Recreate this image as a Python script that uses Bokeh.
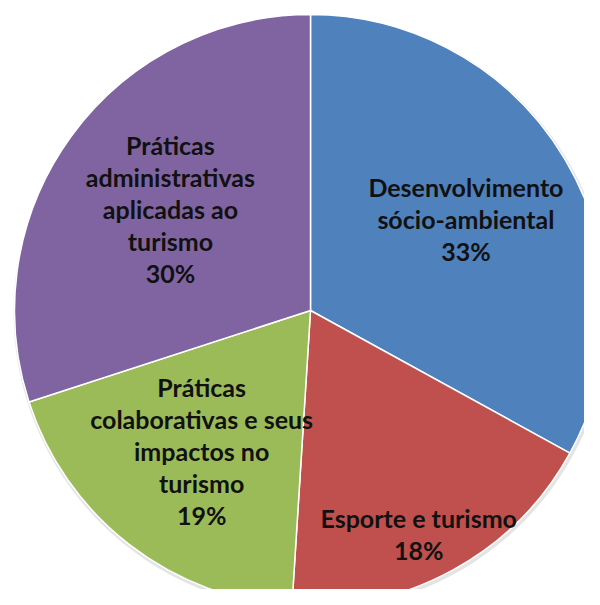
import math
from bokeh.plotting import figure
from bokeh.models import Range1d, ColumnDataSource
from bokeh.core.properties import value
from bokeh.embed import file_html
from bokeh.resources import INLINE

# ---- data ----
categories = ["Desenvolvimento sócio-ambiental", "Esporte e turismo",
              "Práticas colaborativas e seus impactos no turismo",
              "Práticas administrativas aplicadas ao turismo"]
percents = [33, 18, 19, 30]
label_lines = [
    ["Desenvolvimento", "sócio-ambiental", "33%"],
    ["Esporte e turismo", "18%"],
    ["Práticas", "colaborativas e seus", "impactos no", "turismo", "19%"],
    ["Práticas", "administrativas", "aplicadas ao", "turismo", "30%"],
]
colors = ["#4F81BD", "#C0504D", "#9BBB59", "#8064A2"]

# ---- layout (data units = pixels) ----
W, H = 584, 589
cx, cy = 310, 279
R = 296
label_frac = [0.61, 0.84, 0.60, 0.585]
label_turn = [0.0, -3.0, 0.0, 0.0]   # degrees
line_gap = 32

total = sum(percents)
starts, ends, mids = [], [], []
cum = 0.0
for v in percents:
    a0 = math.pi / 2 - 2 * math.pi * cum / total
    cum += v
    a1 = math.pi / 2 - 2 * math.pi * cum / total
    starts.append(a0)
    ends.append(a1)
    mids.append((a0 + a1) / 2)

p = figure(width=W, height=H, output_backend="svg", toolbar_location=None,
           x_range=Range1d(0, W), y_range=Range1d(0, H),
           min_border=0, outline_line_color=None)
p.axis.visible = False
p.grid.visible = False
p.background_fill_color = "white"

# soft outer shadow
p.circle(x=[cx + 1], y=[cy - 2], radius=R + 2, fill_color="#d8d8d8",
         line_color=None, fill_alpha=0.7)

src = ColumnDataSource(dict(start=starts, end=ends, color=colors))
p.wedge(x=cx, y=cy, radius=R, start_angle="start", end_angle="end",
        direction="clock", fill_color="color", line_color="white",
        line_width=1.5, source=src)

xs, ys, ts = [], [], []
for lines, m, f, t in zip(label_lines, mids, label_frac, label_turn):
    a = m + math.radians(t)
    ax = cx + f * R * math.cos(a)
    ay = cy + f * R * math.sin(a)
    n = len(lines)
    for i, s in enumerate(lines):
        xs.append(ax)
        ys.append(ay + ((n - 1) / 2 - i) * line_gap)
        ts.append(s)

p.text(x=xs, y=ys, text=ts, text_align="center", text_baseline="middle",
       text_font=value("Lato"), text_font_style="bold",
       text_font_size="25px", text_color="#111111")

open("out.html", "w").write(file_html(p, INLINE))
